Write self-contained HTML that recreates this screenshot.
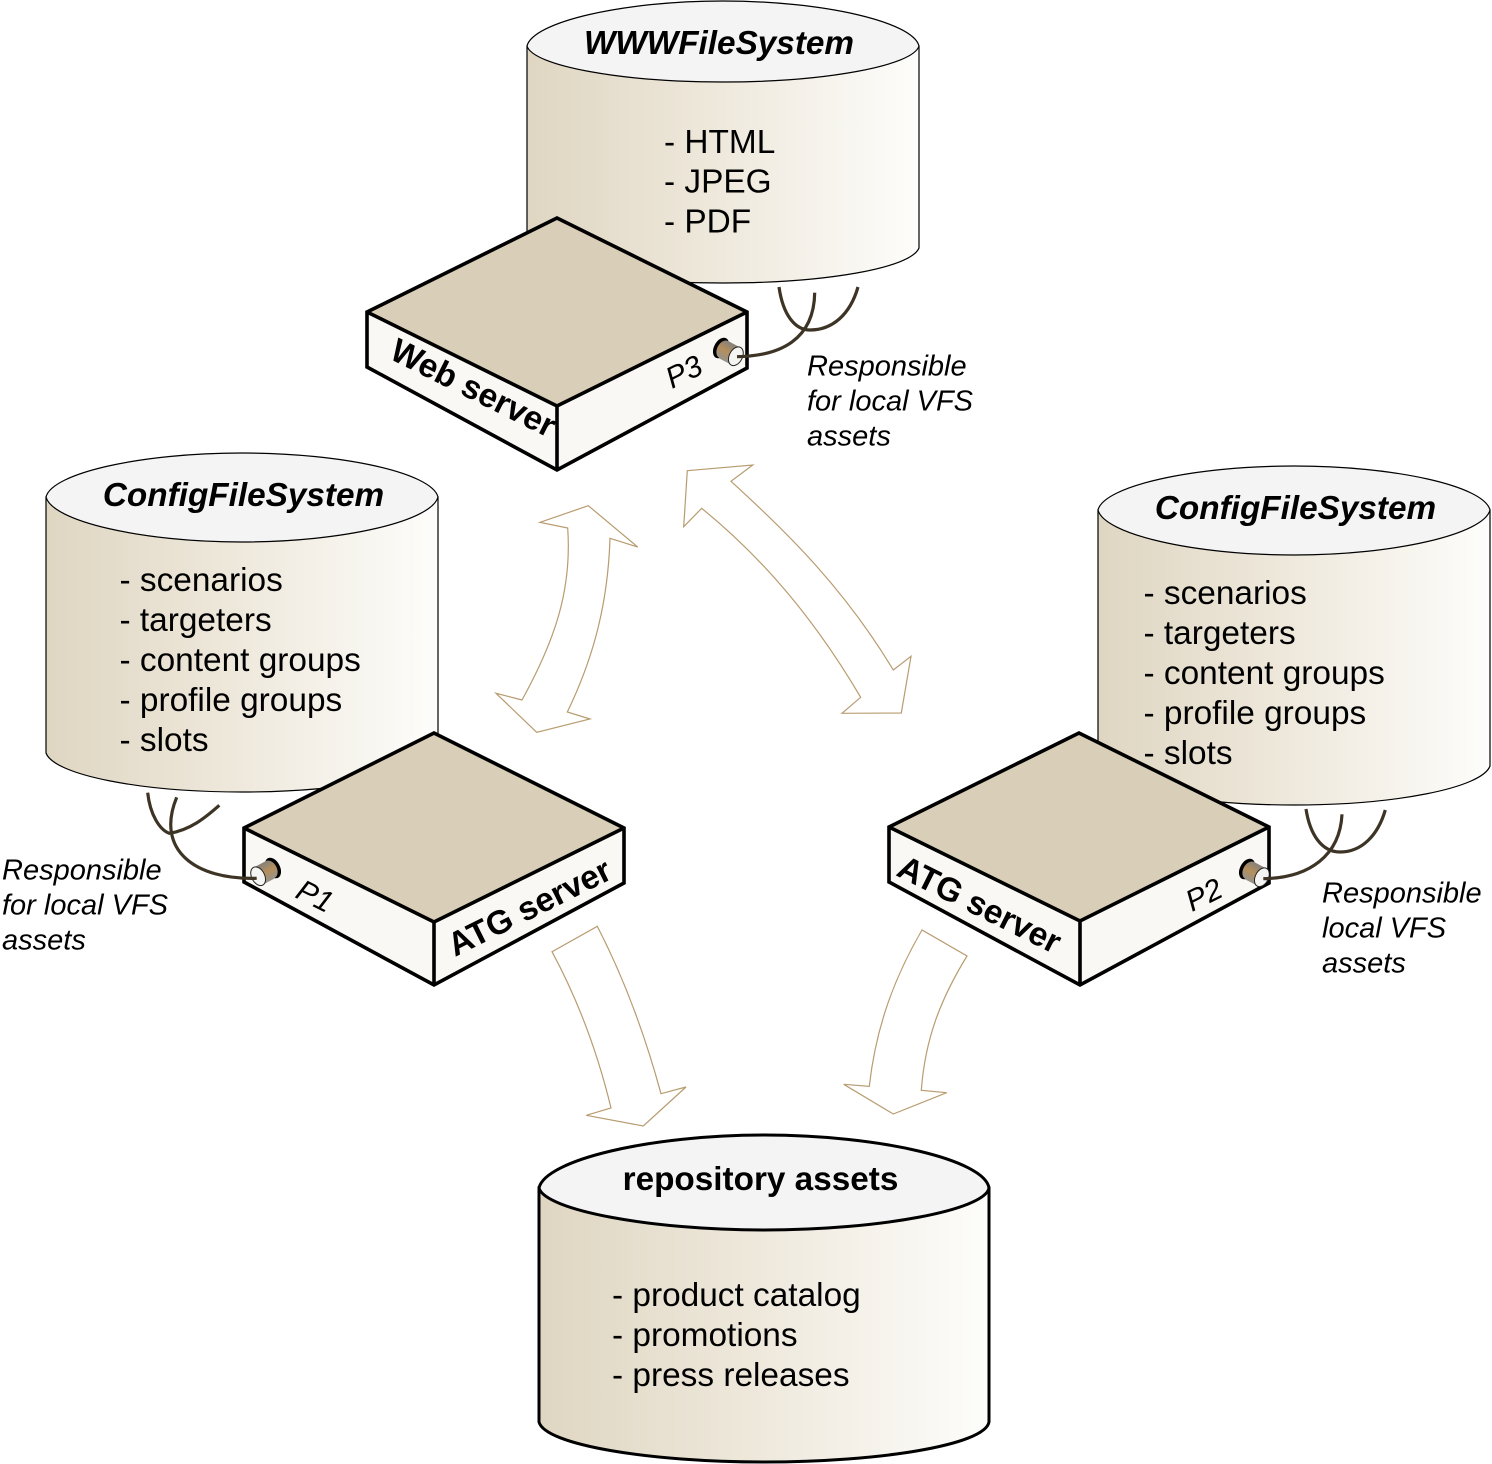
<!DOCTYPE html>
<html><head><meta charset="utf-8"><style>
html,body{margin:0;padding:0;background:#fff}
svg{display:block}
text{font-family:"Liberation Sans",sans-serif;fill:#000}
.h{font-size:33.3px;font-weight:bold;font-style:italic}
.b{font-size:33.4px}
.n{font-size:29px;font-style:italic}
.s{font-size:33.4px;font-weight:bold}
.p{font-size:30px;font-style:italic}
.a{fill:#fff;stroke:#b89c70;stroke-width:1.2}
.w{fill:none;stroke:#3d3426;stroke-width:3.2}
.line{fill:none;stroke:#000;stroke-width:3.6;stroke-linejoin:miter}
</style></head><body>
<svg width="1492" height="1464" viewBox="0 0 1492 1464" xmlns="http://www.w3.org/2000/svg">
<defs>
<linearGradient id="g"><stop offset="0" stop-color="#dfd6c2"/><stop offset=".5" stop-color="#efe9dd"/><stop offset="1" stop-color="#fdfdfb"/></linearGradient>
<linearGradient id="c" x1="0" y1="0" x2="0" y2="1"><stop offset="0" stop-color="#85807a"/><stop offset=".5" stop-color="#b58f5c"/><stop offset="1" stop-color="#96928c"/></linearGradient>
<path id="top" d="M0,44 C6,20 95,0 196,0 C297,0 386,20 392,44 C386,68 297,89 196,89 C95,89 6,68 0,44 Z" fill="#f4f4f4" stroke="#000" stroke-width="1.2"/>
<g id="cyl">
<path d="M0,44 V300 C8,322 95,339 196,339 C297,339 384,322 392,300 V44 Z" fill="url(#g)" stroke="#000" stroke-width="1.2"/>
<use href="#top"/>
</g>
<g id="port">
<ellipse cx="0" cy="0" rx="7" ry="11" fill="#000"/>
<ellipse cx="3" cy="0" rx="6.5" ry="9.5" fill="url(#c)"/>
<rect x="3" y="-9.5" width="14" height="19.5" fill="url(#c)"/>
<ellipse cx="17" cy="0.3" rx="6.5" ry="10" fill="#f4f4f2" stroke="#222" stroke-width="1"/>
</g>
</defs>
<rect width="1492" height="1464" fill="#fff"/>

<!-- arrows -->
<path class="a" d="M588.3,505.7 L637.7,547 L610,538.3 C608,600 595,655 567.3,712 L590,719 L536.7,732.3 L496,693.3 L522,700 C555,640 572,590 567.7,528 L540,522.3 Z"/>
<path class="a" d="M687.3,470.7 L752.7,465 L731,481.3 C790,535 845,590 893.3,670 L911,656.3 L901.3,713 L842,713.3 L860.7,697.3 C815,620 765,560 701.7,508.3 L683.7,526.7 Z"/>
<path class="a" d="M597.3,926.3 C625,980 645,1035 661,1093.7 L686,1087 L643.3,1126 L586.3,1115.3 L611,1108 C597,1050 578,1000 552,951.7 Z"/>
<path class="a" d="M922,930 C890,985 875,1035 869.3,1086.3 L843.7,1084.3 L893.3,1114 L946.7,1092.7 L921.3,1090.3 C925,1040 940,1000 967,956 Z"/>

<!-- WWW cylinder -->
<path d="M527,46 V248 C535,268 620,283 723,283 C826,283 911,268 919,248 V46 Z" fill="url(#g)" stroke="#000" stroke-width="1.2"/>
<path d="M527,46 C533,22 622,1 723,1 C824,1 913,22 919,46 C913,66 824,82 723,82 C622,82 533,66 527,46 Z" fill="#f4f4f4" stroke="#000" stroke-width="1.2"/>
<!-- Config left -->
<use href="#cyl" x="46" y="453"/>
<!-- Config right -->
<use href="#cyl" x="1098" y="466"/>

<!-- repository -->
<path d="M539,1188 V1422 C545,1445 650,1462 764,1462 C880,1462 985,1445 989,1422 V1188 Z" fill="url(#g)" stroke="#000" stroke-width="3"/>
<path d="M539,1188 C545,1160 650,1135 764,1135 C880,1135 985,1160 989,1188 C985,1210 880,1230 764,1230 C650,1230 545,1210 539,1188 Z" fill="#f4f4f4" stroke="#000" stroke-width="3"/>

<!-- wires behind boxes -->
<path class="w" d="M779,287 C783,315 795,330 810,330 C832,330 850,315 858,287"/>
<path class="w" d="M147.7,792.7 C150,815 160,830 169.3,833.3 C190,830 205,818 219.3,805.3"/>
<path class="w" d="M1306,809 C1310,835 1322,852 1340,852 C1362,852 1378,835 1385.3,810"/>

<!-- Web server -->
<path fill="#f9f8f4" d="M367,312 V367 L557,470 L747,368 V312 L557,406 Z"/>
<path fill="#d9cfb9" d="M557,218 L747,312 L557,406 L367,312 Z"/>
<!-- ATG left -->
<path fill="#f9f8f4" d="M244,828 V882 L434,985 L624,883 V828 L434,922 Z"/>
<path fill="#d9cfb9" d="M434,733 L624,828 L434,922 L244,828 Z"/>
<!-- ATG right -->
<path fill="#f9f8f4" d="M889,827 V882 L1080,985 L1269,883 V827 L1080,921 Z"/>
<path fill="#d9cfb9" d="M1079,733 L1269,827 L1080,921 L889,827 Z"/>

<!-- box outlines -->
<path class="line" d="M367,312 L557,218 L747,312 V368 L557,470 L367,367 Z M367,312 L557,406 L747,312 M557,406 V470"/>
<path class="line" d="M244,828 L434,733 L624,828 V883 L434,985 L244,882 Z M244,828 L434,922 L624,828 M434,922 V985"/>
<path class="line" d="M889,827 L1079,733 L1269,827 V883 L1080,985 L889,882 Z M889,827 L1080,921 L1269,827 M1080,921 V985"/>

<!-- ports -->
<use href="#port" transform="translate(721,348) rotate(28)"/>
<use href="#port" transform="translate(273,868) rotate(-28) scale(-1,1)"/>
<use href="#port" transform="translate(1247,869) rotate(28)"/>

<!-- wires to ports -->
<path class="w" d="M814.7,292.7 C814,340 780,356 737,356.7"/>
<path class="w" d="M176.7,797.3 C155,850 195,880 256.7,878.3"/>
<path class="w" d="M1342,814.3 C1340,855 1310,878 1263.3,878.7"/>

<!-- cylinder text -->
<text class="h" x="719" y="54" text-anchor="middle">WWWFileSystem</text>
<text class="b" x="664" y="153">- HTML</text>
<text class="b" x="664" y="192.5">- JPEG</text>
<text class="b" x="664" y="232.5">- PDF</text>

<text class="h" x="243.5" y="506" text-anchor="middle">ConfigFileSystem</text>
<text class="b" x="119.5" y="591">- scenarios</text>
<text class="b" x="119.5" y="631">- targeters</text>
<text class="b" x="119.5" y="671">- content groups</text>
<text class="b" x="119.5" y="711">- profile groups</text>
<text class="b" x="119.5" y="751">- slots</text>

<text class="h" x="1295.5" y="519" text-anchor="middle">ConfigFileSystem</text>
<text class="b" x="1143.5" y="604">- scenarios</text>
<text class="b" x="1143.5" y="644">- targeters</text>
<text class="b" x="1143.5" y="684">- content groups</text>
<text class="b" x="1143.5" y="724">- profile groups</text>
<text class="b" x="1143.5" y="764">- slots</text>

<text x="760.5" y="1190" text-anchor="middle" style="font-size:33.3px;font-weight:bold">repository assets</text>
<text class="b" x="612" y="1306">- product catalog</text>
<text class="b" x="612" y="1346">- promotions</text>
<text class="b" x="612" y="1386">- press releases</text>

<!-- notes -->
<text class="n" x="807" y="375.5">Responsible</text>
<text class="n" x="807" y="410.5">for local VFS</text>
<text class="n" x="807" y="445.5">assets</text>
<text class="n" x="2" y="879.5">Responsible</text>
<text class="n" x="2" y="914.5">for local VFS</text>
<text class="n" x="2" y="949.5">assets</text>
<text class="n" x="1322" y="902.5">Responsible</text>
<text class="n" x="1322" y="937.5">local VFS</text>
<text class="n" x="1322" y="972.5">assets</text>

<!-- server labels -->
<text class="s" transform="translate(388,358) rotate(26.5)">Web server</text>
<text class="s" transform="translate(455,957) rotate(-26.5)">ATG server</text>
<text class="s" transform="translate(895,875) rotate(26.5)">ATG server</text>
<text class="p" transform="translate(672,389) rotate(-26.5)">P3</text>
<text class="p" transform="translate(294,897) rotate(26.5)">P1</text>
<text class="p" transform="translate(1192,912) rotate(-26.5)">P2</text>
</svg>
</body></html>
